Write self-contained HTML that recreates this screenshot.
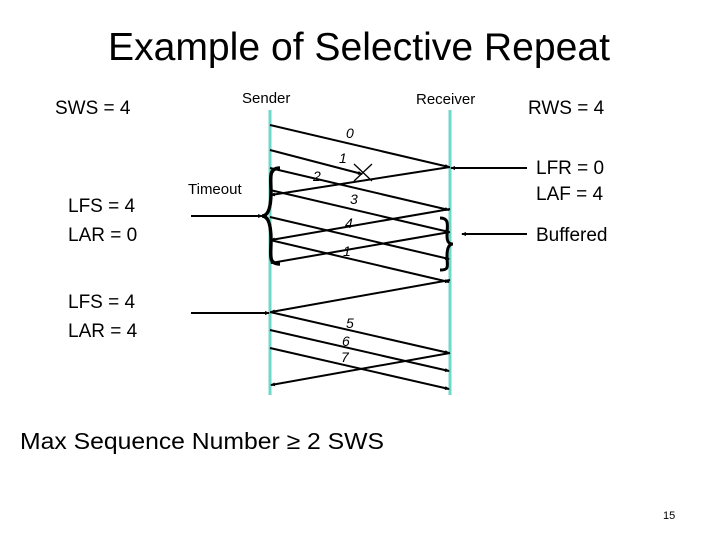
<!DOCTYPE html>
<html><head><style>
body{margin:0;width:720px;height:540px;background:#fff;overflow:hidden}
svg text{font-family:"Liberation Sans",sans-serif}
</style></head><body>
<svg width="720" height="540" viewBox="0 0 720 540">
<defs><marker id="a" markerWidth="5" markerHeight="5" refX="4" refY="2.5" orient="auto" markerUnits="userSpaceOnUse"><path d="M0,0.5 L5,2.5 L0,4.5z" fill="#000"/></marker></defs>
<text x="359" y="60" font-size="38.5" text-anchor="middle" textLength="502" lengthAdjust="spacingAndGlyphs">Example of Selective Repeat</text>
<text x="55" y="114" font-size="19">SWS = 4</text>
<text x="242" y="103" font-size="15">Sender</text>
<text x="416" y="104" font-size="15">Receiver</text>
<text x="528" y="114" font-size="19">RWS = 4</text>
<text x="68" y="212" font-size="19">LFS = 4</text>
<text x="68" y="241" font-size="19">LAR = 0</text>
<text x="68" y="308" font-size="19">LFS = 4</text>
<text x="68" y="337" font-size="19">LAR = 4</text>
<text x="188" y="194" font-size="15">Timeout</text>
<text x="536" y="174" font-size="19">LFR = 0</text>
<text x="536" y="200" font-size="19">LAF = 4</text>
<text x="536" y="241" font-size="19">Buffered</text>
<text x="20" y="449" font-size="23" textLength="364" lengthAdjust="spacingAndGlyphs">Max Sequence Number ≥ 2 SWS</text>
<text x="663" y="519" font-size="11">15</text>
<line x1="270" y1="110" x2="270" y2="395" stroke="#6fd8c8" stroke-width="3"/>
<line x1="450" y1="110" x2="450" y2="395" stroke="#6fd8c8" stroke-width="3"/>
<g stroke="#000" stroke-width="2" fill="none" marker-end="url(#a)">
<line x1="270" y1="125" x2="449" y2="167"/>
<line x1="270" y1="150" x2="362" y2="174"/>
<line x1="270" y1="168" x2="449" y2="210"/>
<line x1="270" y1="190" x2="449" y2="232"/>
<line x1="270" y1="217" x2="449" y2="259"/>
<line x1="270" y1="240" x2="449" y2="282"/>
<line x1="450" y1="167" x2="271" y2="195"/>
<line x1="450" y1="209" x2="271" y2="240"/>
<line x1="450" y1="232" x2="271" y2="263"/>
<line x1="450" y1="280" x2="271" y2="312"/>
<line x1="270" y1="312" x2="449" y2="353"/>
<line x1="270" y1="330" x2="449" y2="371"/>
<line x1="270" y1="348" x2="449" y2="389"/>
<line x1="450" y1="353" x2="271" y2="385"/>
<line x1="191" y1="216" x2="262" y2="216"/>
<line x1="191" y1="313" x2="269" y2="313"/>
<line x1="527" y1="168" x2="451" y2="168"/>
<line x1="527" y1="234" x2="462" y2="234"/>
</g>
<g stroke="#000" stroke-width="1.3">
<line x1="354" y1="164" x2="372" y2="181"/><line x1="372" y1="164" x2="354" y2="181"/>
</g>
<path d="M280,168 C268,168 271,178 271,192 C271,208 268,216 262,216 C268,216 271,224 271,240 C271,256 268,264 280,264" stroke="#000" stroke-width="3.5" fill="none"/>
<path d="M440,218 C450,218 447,226 447,236 C447,242 449,244 453,244 C449,244 447,248 447,256 C447,266 450,270 440,270" stroke="#000" stroke-width="3" fill="none"/>
<g font-size="14" font-style="italic">
<text x="346" y="138">0</text><text x="339" y="163">1</text><text x="313" y="181">2</text>
<text x="350" y="204">3</text><text x="345" y="228">4</text><text x="343" y="256">1</text>
<text x="346" y="328">5</text><text x="342" y="346">6</text><text x="341" y="362">7</text>
</g>
</svg>
</body></html>
